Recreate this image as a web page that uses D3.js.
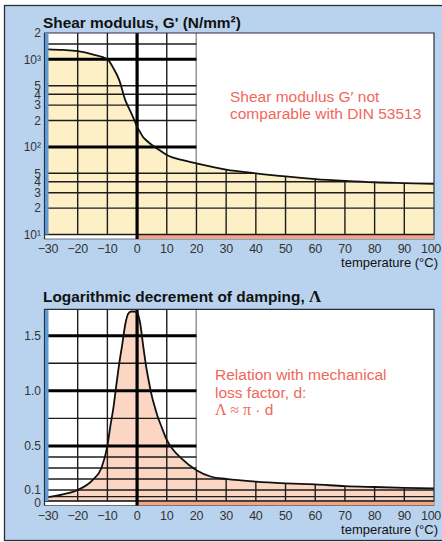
<!DOCTYPE html>
<html lang="en">
<head>
    <meta charset="utf-8">
    <title>Shear modulus and damping</title>
    <script src="https://d3js.org/d3.v7.min.js" charset="utf-8"></script>
    <style>
        body { margin: 0; background: #fff; }
        text { font-family: "Liberation Sans", Arial, sans-serif; }
    </style>
</head>
<body>
<script>

// ---- data ----
var xTicks = [-30, -20, -10, 0, 10, 20, 30, 40, 50, 60, 70, 80, 90, 100]
var xTickLabels = ["\u221230", "\u221220", "\u221210", "0", "10", "20", "30", "40", "50", "60", "70", "80", "90", "100"]

var shearTemp = [-30, -25, -20, -15, -10, -8, -6, -4, -2, -1, 0, 1, 2, 3, 5, 7.5, 10, 15, 20, 30, 40, 50, 60, 70, 80, 90, 100]
var shearModulus = [1300, 1280, 1240, 1140, 1000, 795, 580, 345, 245, 205, 170, 148, 130, 120, 105, 92, 81, 71, 65, 55, 50, 46, 43, 41, 39.5, 38.7, 38]
var shearTicks = [2000, 1000, 500, 400, 300, 200, 100, 50, 40, 30, 20, 10]
var shearTickLabels = ["2", "10\u00b3", "5", "4", "3", "2", "10\u00b2", "5", "4", "3", "2", "10\u00b9"]
var shearGridThin = [20, 30, 40, 50, 200, 300, 400, 500, 1500]
var shearGridThick = [100, 1000]

var dampTemp = [-30, -25, -20, -15, -12, -10, -9, -8, -7, -6, -5, -4, -3, -2, -1, 0, 1, 2, 3, 4, 5, 6, 7, 8, 10, 12, 15, 20, 25, 30, 40, 50, 60, 70, 80, 90, 100]
var dampDecrement = [0.035, 0.06, 0.1, 0.19, 0.3, 0.5, 0.68, 0.84, 1.05, 1.25, 1.42, 1.6, 1.7, 1.72, 1.72, 1.71, 1.62, 1.42, 1.23, 1.08, 0.95, 0.85, 0.76, 0.69, 0.555, 0.47, 0.385, 0.28, 0.22, 0.2, 0.175, 0.16, 0.15, 0.135, 0.127, 0.12, 0.115]
var dampTicks = [1.5, 1.0, 0.5, 0.1, 0]
var dampTickLabels = ["1.5", "1.0", "0.5", "0.1", "0"]
var dampGridThin = [0.04, 0.1, 0.2, 0.3, 0.4, 0.75, 1.25]
var dampGridThick = [0.5, 1.0, 1.5]

var w = 442, h = 542
var blue = "#b9d3ee"

var svg = d3.select("body").append("svg").attr("width", w).attr("height", h)

// outer frame
svg.append("rect").attr("x", 4.5).attr("y", 5.5).attr("width", 450).attr("height", 535)
    .attr("fill", blue).attr("stroke", "#2a2f36").attr("stroke-width", 1.3)

var x = d3.scaleLinear().domain([-30, 100]).range([48, 434])

function drawPanel(o) {
    var g = svg.append("g")
    var y = o.y
    var top = o.top, bot = o.bottom
    var pts = d3.zip(o.temp, o.vals)

    var area = d3.area().x(function (d) { return x(d[0]) }).y0(bot).y1(function (d) { return y(d[1]) }).curve(d3.curveMonotoneX)
    var line = d3.line().x(function (d) { return x(d[0]) }).y(function (d) { return y(d[1]) }).curve(d3.curveMonotoneX)

    // plot background
    g.append("rect").attr("x", 44.5).attr("y", top).attr("width", 434 - 44.5).attr("height", bot - top).attr("fill", "#fff")
    g.append("path").datum(pts).attr("d", area).attr("fill", o.fill)

    // grid only in the left block and under the curve
    var cp = svg.append("clipPath").attr("id", o.id)
    cp.append("rect").attr("x", 44).attr("y", top).attr("width", x(20) - 44).attr("height", bot - top)
    cp.append("path").datum(pts).attr("d", area)

    var grid = g.append("g").attr("clip-path", "url(#" + o.id + ")")
    grid.selectAll(".hthin").data(o.gridThin).join("line")
        .attr("x1", 44.5).attr("x2", 434).attr("y1", function (d) { return y(d) }).attr("y2", function (d) { return y(d) })
        .attr("stroke", "#1c1c1c").attr("stroke-width", 1.4)
    grid.selectAll(".v").data(xTicks.filter(function (t) { return t > -30 && t < 100 && t !== 0 })).join("line")
        .attr("x1", function (d) { return x(d) }).attr("x2", function (d) { return x(d) }).attr("y1", top).attr("y2", bot)
        .attr("stroke", "#1c1c1c").attr("stroke-width", 1.4)
    grid.selectAll(".hthick").data(o.gridThick).join("line")
        .attr("x1", 44.5).attr("x2", 434).attr("y1", function (d) { return y(d) }).attr("y2", function (d) { return y(d) })
        .attr("stroke", "#000").attr("stroke-width", 3)

    // bottom strip
    g.append("rect").attr("x", 44.5).attr("y", bot).attr("width", 434 - 44.5).attr("height", 4.5)
        .attr("fill", "#fff").attr("stroke", "#555").attr("stroke-width", 0.8)
    g.append("rect").attr("x", x(0)).attr("y", bot + 0.4).attr("width", 434 - x(0)).attr("height", 3.7).attr("fill", "#f4a383")
    g.append("line").attr("x1", 44.5).attr("x2", 434).attr("y1", bot).attr("y2", bot).attr("stroke", "#1c1c1c").attr("stroke-width", 1.3)

    // thick zero line
    g.append("line").attr("x1", x(0)).attr("x2", x(0)).attr("y1", top).attr("y2", bot + 4.5)
        .attr("stroke", "#000").attr("stroke-width", 3.2)

    // curve
    g.append("path").datum(pts).attr("d", line).attr("fill", "none").attr("stroke", "#111").attr("stroke-width", 1.8)

    // frame
    g.append("path").attr("d", "M44.5," + (bot + 4.5) + "V" + top + "H434V" + bot)
        .attr("fill", "none").attr("stroke", "#2a2f36").attr("stroke-width", 1.2)
    g.append("rect").attr("x", 45).attr("y", top + 0.6).attr("width", 3.5).attr("height", bot - top - 0.6).attr("fill", "#5d9ad6")

    // y tick labels
    g.selectAll(".yl").data(o.ticks).join("text")
        .attr("x", 41).attr("y", function (d) { return y(d) + (d === 0 ? 2 : 0) }).attr("dy", "0.36em")
        .attr("text-anchor", "end").attr("font-size", 12).attr("fill", "#333")
        .text(function (d, i) { return o.tickLabels[i] })

    // x tick labels
    g.selectAll(".xl").data(xTicks).join("text")
        .attr("x", function (d) { return d === 100 ? 441 : x(d) }).attr("y", bot + 18.5)
        .attr("text-anchor", function (d) { return d === 100 ? "end" : "middle" })
        .attr("font-size", 12.5).attr("letter-spacing", -0.3).attr("fill", "#333")
        .text(function (d, i) { return xTickLabels[i] })

    g.append("text").attr("x", 438).attr("y", bot + 32.5).attr("text-anchor", "end")
        .attr("font-size", 13).attr("fill", "#111").text("temperature (\u00b0C)")

    return g
}

var yShear = d3.scaleLog().domain([10, 2000]).range([234.5, 33])
drawPanel({ id: "clipShear", y: yShear, top: 33, bottom: 234.5, temp: shearTemp, vals: shearModulus,
    fill: "#fdf0c6", gridThin: shearGridThin, gridThick: shearGridThick, ticks: shearTicks, tickLabels: shearTickLabels })

var yDamp = d3.scaleLinear().domain([0, 1.74]).range([501, 309.3])
drawPanel({ id: "clipDamp", y: yDamp, top: 309.3, bottom: 501, temp: dampTemp, vals: dampDecrement,
    fill: "#fbd6c3", gridThin: dampGridThin, gridThick: dampGridThick, ticks: dampTicks, tickLabels: dampTickLabels })

// titles
svg.append("text").attr("x", 43).attr("y", 27.5).attr("font-size", 15.4).attr("font-weight", "bold").attr("fill", "#111")
    .text("Shear modulus, G' (N/mm\u00b2)")
var t2 = svg.append("text").attr("x", 43).attr("y", 302).attr("font-size", 15.4).attr("font-weight", "bold").attr("fill", "#111")
t2.append("tspan").text("Logarithmic decrement of damping, ")
t2.append("tspan").attr("font-family", "'Liberation Serif', 'DejaVu Serif', serif").attr("font-size", 17).text("\u039b")

// notes
var red = "#f0675a"
svg.append("text").attr("x", 230).attr("y", 101.5).attr("font-size", 15.5).attr("fill", red).text("Shear modulus G\u2032 not")
svg.append("text").attr("x", 230).attr("y", 118.5).attr("font-size", 15.5).attr("fill", red).text("comparable with DIN 53513")

svg.append("text").attr("x", 215).attr("y", 380).attr("font-size", 15.5).attr("fill", red).text("Relation with mechanical")
svg.append("text").attr("x", 215).attr("y", 397.5).attr("font-size", 15.5).attr("fill", red).text("loss factor, d:")
var n3 = svg.append("text").attr("x", 215).attr("y", 415).attr("font-size", 15.5).attr("fill", red)
n3.append("tspan").attr("font-family", "'Liberation Serif', serif").attr("font-size", 16).text("\u039b \u2248 \u03c0")
n3.append("tspan").text(" \u00b7 d")

</script>
</body>
</html>
